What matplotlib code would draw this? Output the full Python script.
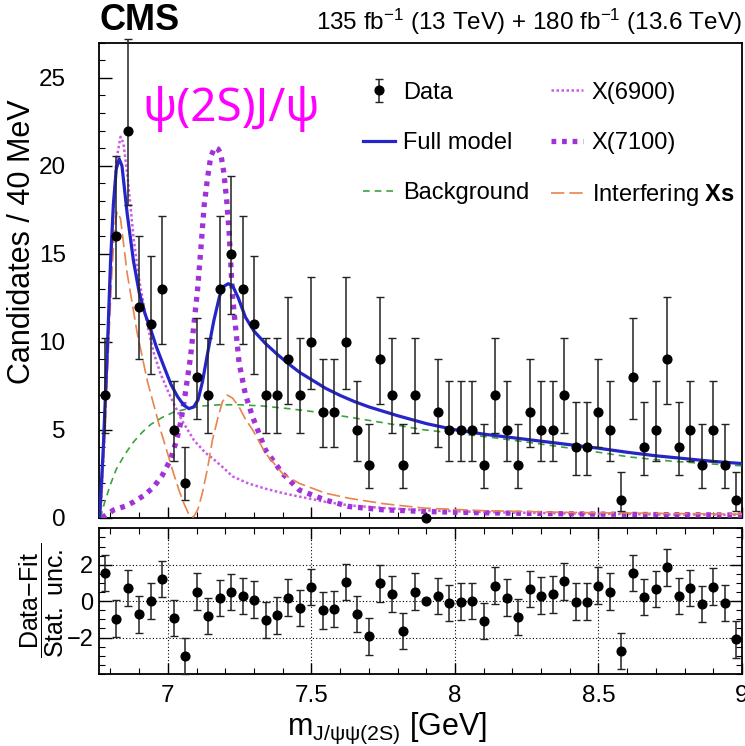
import numpy as np
import matplotlib
matplotlib.use('Agg')
import matplotlib.pyplot as plt
from matplotlib.ticker import MultipleLocator, FixedLocator, NullFormatter, FuncFormatter

plt.rcParams['font.family'] = ['Liberation Sans', 'DejaVu Sans']
plt.rcParams['mathtext.fontset'] = 'custom'
plt.rcParams['mathtext.rm'] = 'Liberation Sans'
plt.rcParams['mathtext.it'] = 'Liberation Sans:italic'
plt.rcParams['mathtext.bf'] = 'Liberation Sans:bold'

# ---------------- data ----------------
bin_centers = [6.78 + 0.04 * k for k in range(56)]
counts = [7, 16, 22, 12, 11, 13, 5, 2, 8, 7,
          13, 15, 13, 11, 7, 7, 9, 7, 10, 6,
          6, 10, 5, 3, 9, 7, 3, 7, 0, 6,
          5, 5, 5, 3, 7, 5, 3, 6, 5, 5,
          7, 4, 4, 6, 5, 1, 8, 4, 5, 9,
          4, 5, 3, 5, 3, 1]
pulls = [1.55, -0.96, 0.71, -0.73, 0.0, 1.22, -0.93, -3.0, 0.53, -0.82,
         0.16, 0.49, 0.27, 0.09, -1.05, -0.78, 0.19, -0.38, 0.77, -0.51,
         -0.42, 1.04, -0.69, -1.93, 0.98, 0.40, -1.64, 0.53, 0.0, 0.27,
         -0.09, -0.02, 0.0, -1.09, 0.86, 0.19, -0.87, 0.68, 0.31, 0.37,
         1.09, -0.02, -0.02, 0.86, 0.53, -2.75, 1.55, 0.22, 0.68, 1.86,
         0.27, 0.73, -0.14, 0.80, -0.09, -2.1]

full_x = [6.762, 6.775, 6.79, 6.80, 6.81, 6.82, 6.83, 6.84, 6.858, 6.88, 6.90, 6.92, 6.94,
          6.96, 6.986, 7.01, 7.033, 7.055, 7.073, 7.09, 7.105, 7.12, 7.14, 7.16, 7.18,
          7.195, 7.21, 7.225, 7.245, 7.27, 7.30, 7.34, 7.38, 7.42, 7.46, 7.50, 7.55,
          7.60, 7.65, 7.70, 7.80, 7.90, 8.00, 8.10, 8.20, 8.30, 8.40, 8.50, 8.60,
          8.70, 8.80, 8.90, 9.00]
full_y = [0, 4, 10, 14.5, 17.8, 19.8, 20.4, 20.0, 17.3, 14.6, 12.8, 11.6, 10.7,
          9.7, 8.6, 7.6, 6.9, 6.4, 6.2, 6.3, 6.7, 7.7, 9.5, 11.2, 12.6,
          13.15, 13.3, 13.2, 12.5, 11.4, 10.6, 9.9, 9.3, 8.75, 8.25, 7.85, 7.35,
          6.95, 6.6, 6.3, 5.8, 5.35, 5.0, 4.75, 4.55, 4.35, 4.15, 3.95, 3.72,
          3.52, 3.36, 3.2, 3.08]

bkg_x = [6.765, 6.78, 6.80, 6.82, 6.85, 6.88, 6.91, 6.94, 6.98, 7.02, 7.07, 7.12, 7.18,
         7.25, 7.33, 7.42, 7.52, 7.63, 7.75, 7.89, 8.00, 8.12, 8.25, 8.36, 8.50, 8.61,
         8.75, 8.90, 9.00]
bkg_y = [0, 0.9, 1.9, 2.75, 3.6, 4.3, 4.85, 5.3, 5.7, 6.0, 6.2, 6.35, 6.42,
         6.42, 6.35, 6.2, 6.0, 5.72, 5.4, 5.0, 4.8, 4.58, 4.3, 4.05, 3.72, 3.45,
         3.22, 3.05, 2.95]

x6900_x = [6.765, 6.78, 6.795, 6.81, 6.82, 6.835, 6.845, 6.86, 6.881, 6.90, 6.928, 6.95,
           6.974, 7.00, 7.02, 7.05, 7.091, 7.13, 7.161, 7.196, 7.225, 7.28, 7.34, 7.40,
           7.458, 7.55, 7.633, 7.75, 7.90, 8.10, 8.40, 8.70, 9.00]
x6900_y = [0, 5, 12, 17.5, 20.3, 21.65, 21.3, 19.3, 15.8, 13.5, 11.0, 9.4,
           8.2, 7.2, 6.5, 5.5, 4.4, 3.7, 3.3, 2.8, 2.35, 1.95, 1.65, 1.4,
           1.2, 0.9, 0.7, 0.55, 0.42, 0.32, 0.24, 0.19, 0.16]

x7100_x = [6.77, 6.811, 6.85, 6.881, 6.92, 6.951, 6.98, 7.009, 7.03, 7.044, 7.06, 7.079,
           7.09, 7.103, 7.115, 7.126, 7.138, 7.149, 7.163, 7.175, 7.184, 7.195, 7.205,
           7.213, 7.225, 7.248, 7.27, 7.295, 7.34, 7.40, 7.458, 7.55, 7.633, 7.75, 7.90,
           8.10, 8.40, 8.70, 9.00]
x7100_y = [0, 0.44, 0.65, 0.9, 1.3, 1.76, 2.4, 3.3, 4.4, 5.36, 7.0, 9.15,
           10.9, 12.9, 15.3, 17.7, 19.3, 20.5, 21.05, 20.95, 20.7, 19.6, 18.0,
           16.3, 12.6, 8.8, 7.0, 5.74, 3.85, 2.5, 1.57, 1.0, 0.63, 0.45, 0.35,
           0.28, 0.22, 0.18, 0.15]

interf_x = [6.765, 6.78, 6.794, 6.805, 6.815, 6.823, 6.835, 6.858, 6.893, 6.928, 6.974,
            7.00, 7.02, 7.04, 7.056, 7.07, 7.079, 7.09, 7.105, 7.12, 7.138, 7.155, 7.173,
            7.19, 7.207, 7.225, 7.248, 7.27, 7.295, 7.34, 7.40, 7.458, 7.55, 7.633, 7.75,
            7.89, 8.10, 8.40, 8.70, 9.00]
interf_y = [0, 4.5, 10.1, 14.0, 16.6, 17.4, 17.0, 13.9, 10.5, 7.8, 5.0,
            3.6, 2.5, 1.5, 0.8, 0.3, 0.05, 0.05, 0.5, 1.4, 2.8, 4.4, 5.6,
            6.6, 6.97, 6.8, 6.3, 5.6, 5.0, 3.66, 2.5, 1.95, 1.39, 1.1, 0.8,
            0.55, 0.4, 0.3, 0.25, 0.2]

# ---------------- figure ----------------
fig = plt.figure(figsize=(7.45, 7.46), dpi=100)
ax1 = fig.add_axes([0.1329, 0.306, 0.8631, 0.6368])
ax2 = fig.add_axes([0.1329, 0.0965, 0.8631, 0.1953])

c_full = '#2525c8'
c_bkg = '#3aa33a'
c_6900 = '#cc5ae8'
c_7100 = '#a032d8'
c_int = '#e8844c'

l_6900, = ax1.plot(x6900_x, x6900_y, color=c_6900, lw=1.8, ls=(0, (1, 1)), zorder=3)
l_7100, = ax1.plot(x7100_x, x7100_y, color=c_7100, lw=3.8, ls=(0, (0.9, 1.1)), zorder=3)
l_int, = ax1.plot(interf_x, interf_y, color=c_int, lw=1.2, ls=(0, (8, 3)), zorder=3)
l_bkg, = ax1.plot(bkg_x, bkg_y, color=c_bkg, lw=1.2, ls=(0, (4, 3)), zorder=3)
l_full, = ax1.plot(full_x, full_y, color=c_full, lw=2.3, zorder=4)

cnt = np.array(counts, dtype=float)
err_up = np.where(cnt > 0, 0.5 + np.sqrt(cnt + 0.25), 0.0)
err_lo = np.where(cnt > 0, np.sqrt(cnt + 0.25) - 0.5, 0.0)
data_h = ax1.errorbar(bin_centers, counts, yerr=[err_lo, err_up], fmt='o', color='k',
                      ecolor='#222222', elinewidth=1.1, capsize=2.8, capthick=1.0,
                      markersize=6.3, zorder=5, clip_on=False)

ax1.set_xlim(6.76, 9.0)
ax1.set_ylim(0, 27)
ax1.xaxis.set_major_locator(MultipleLocator(0.5))
ax1.xaxis.set_minor_locator(MultipleLocator(0.1))
ax1.yaxis.set_major_locator(MultipleLocator(5))
ax1.yaxis.set_minor_locator(MultipleLocator(1))
ax1.xaxis.set_major_formatter(NullFormatter())
ax1.tick_params(axis='both', which='both', direction='in', top=False, right=False)
ax1.tick_params(axis='y', which='major', length=9, width=1.0, labelsize=17.5, pad=24)
ax1.tick_params(axis='y', which='minor', length=4.5, width=0.8)
ax1.tick_params(axis='x', which='major', length=8, width=1.0)
ax1.tick_params(axis='x', which='minor', length=4.5, width=0.8)
for s in ax1.spines.values():
    s.set_linewidth(1.3)

ax1.legend([data_h, l_full, l_bkg, l_6900, l_7100, l_int],
           ['Data', 'Full model', 'Background', 'X(6900)', 'X(7100)',
            r'Interfering $\mathbf{Xs}$'],
           ncol=2, loc='upper left', bbox_to_anchor=(0.41, 0.918),
           fontsize=17, frameon=False, handlelength=1.35, handletextpad=0.35,
           columnspacing=0.95, labelspacing=1.2, borderaxespad=0, borderpad=0)

ax1.text(0.068, 0.86, 'ψ(2S)J/ψ', transform=ax1.transAxes, color='#ff00ff',
         fontsize=33, family=['Noto Sans', 'DejaVu Sans'], va='center', ha='left')

# ---------------- ratio ----------------
perr = [0 if c == 0 else 1 for c in counts]
ax2.errorbar(bin_centers, pulls, yerr=[perr, perr],
             fmt='o', color='k', ecolor='#222222', elinewidth=1.1, capsize=2.8, capthick=1.0,
             markersize=6.3, zorder=5, clip_on=False)
ax2.set_xlim(6.76, 9.0)
ax2.set_ylim(-4, 4)
ax2.xaxis.set_major_locator(MultipleLocator(0.5))
ax2.xaxis.set_minor_locator(MultipleLocator(0.1))
ax2.yaxis.set_major_locator(FixedLocator([-2, 0, 2]))
ax2.yaxis.set_minor_locator(MultipleLocator(0.5))
ax2.xaxis.set_major_formatter(FuncFormatter(lambda v, p: '%g' % v))
ax2.yaxis.set_major_formatter(FuncFormatter(lambda v, p: ('%g' % v).replace('-', '\u2212')))
ax2.tick_params(axis='both', which='both', direction='in', top=True, right=True)
ax2.tick_params(axis='y', which='major', length=9, width=1.0, labelsize=17, pad=4)
ax2.tick_params(axis='y', which='minor', length=4.5, width=0.8)
ax2.tick_params(axis='x', which='major', length=8, width=1.0, labelsize=17.5, pad=8)
ax2.tick_params(axis='x', which='minor', length=4.5, width=0.8)
ax2.grid(True, which='major', color='k', ls=(0, (1, 2)), lw=0.8)
for s in ax2.spines.values():
    s.set_linewidth(1.3)

# ---------------- labels ----------------
fig.text(0.133, 0.972, 'CMS', fontsize=26, fontweight='bold', ha='left', va='center')
fig.text(0.996, 0.970, r'135 fb$^{-1}$ (13 TeV) + 180 fb$^{-1}$ (13.6 TeV)',
         fontsize=17.5, ha='right', va='center')
fig.text(0.030, 1 - 242 / 746, 'Candidates / 40 MeV', rotation=90, fontsize=22,
         ha='center', va='center')
fig.text(0.056, 1 - 600 / 746, r'$\dfrac{\mathrm{Data{-}Fit}}{\mathrm{Stat.\ unc.}}$',
         rotation=90, fontsize=18, ha='center', va='center')
fig.text(0.52, 1 - 728 / 746, r'm$_{\mathrm{J/ψψ(2S)}}$ [GeV]', fontsize=22,
         ha='center', va='center')

fig.savefig('out.png', dpi=100)
